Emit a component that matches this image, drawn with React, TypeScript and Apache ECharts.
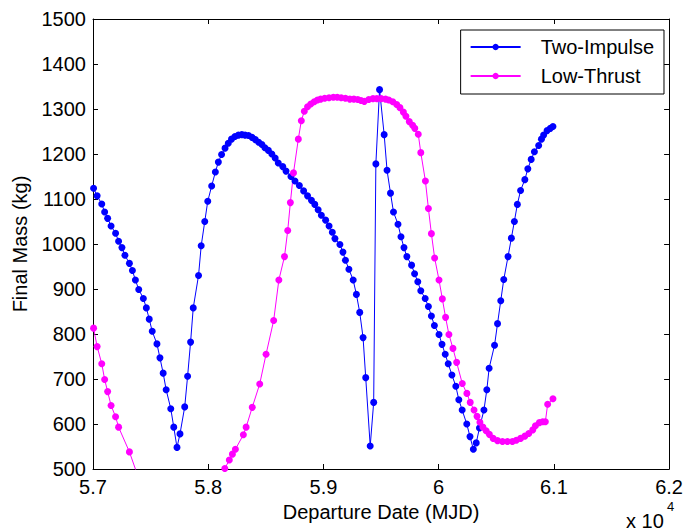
import React, { useEffect, useRef } from 'react';
import * as echarts from 'echarts';

const xTickValues = [57000, 58000, 59000, 60000, 61000, 62000];
const yTickValues = [500, 600, 700, 800, 900, 1000, 1100, 1200, 1300, 1400, 1500];

const twoImpulseDate = [
  57005, 57036, 57076, 57101, 57127, 57157, 57196, 57222, 57251, 57277,
  57316, 57342, 57368, 57397, 57437, 57463, 57488, 57514, 57555, 57581,
  57609, 57635, 57675, 57701, 57729, 57755, 57796, 57821, 57847, 57870,
  57916, 57939, 57970, 57996, 58030, 58062, 58088, 58116, 58146, 58174,
  58202, 58232, 58262, 58292, 58320, 58350, 58380, 58409, 58438, 58466,
  58492, 58522, 58552, 58581, 58608, 58647, 58675, 58718, 58753, 58791,
  58828, 58862, 58896, 58925, 58954, 58982, 59019, 59049, 59077, 59100,
  59143, 59169, 59191, 59221, 59258, 59286, 59315, 59344, 59367, 59406,
  59436, 59455, 59487, 59527, 59552, 59582, 59608, 59647, 59673, 59699,
  59724, 59765, 59791, 59819, 59845, 59883, 59911, 59937, 59963, 60003,
  60029, 60057, 60083, 60115, 60149, 60175, 60204, 60244, 60272, 60301,
  60326, 60354, 60393, 60418, 60438, 60485, 60511, 60539, 60565, 60602,
  60631, 60657, 60683, 60711, 60748, 60774, 60803, 60831, 60868, 60892,
  60911, 60941, 60969, 60992,
];
const twoImpulseMass = [
  1124, 1107, 1089, 1071, 1057, 1040, 1024, 1006, 992, 975,
  957, 941, 920, 899, 879, 858, 833, 806, 778, 747,
  713, 676, 634, 593, 548, 578, 638, 706, 782, 858,
  930, 996, 1050, 1095, 1129, 1160, 1182, 1199, 1213, 1224,
  1233, 1239, 1242, 1243, 1242, 1241, 1237, 1232, 1226, 1221,
  1214, 1208, 1200, 1191, 1180, 1172, 1162, 1150, 1140, 1130,
  1118, 1107, 1097, 1088, 1076, 1064, 1053, 1040, 1026, 1012,
  999, 982, 964, 944, 920, 888, 848, 792, 703, 551,
  648, 1178, 1343, 1243, 1164, 1113, 1071, 1044, 1016, 992,
  972, 953, 934, 916, 896, 879, 861, 840, 819, 799,
  777, 755, 734, 709, 684, 654, 631, 600, 572, 544,
  558, 591, 631, 676, 724, 775, 823, 874, 921, 972,
  1013, 1050, 1088, 1119, 1143, 1167, 1188, 1205, 1219, 1233,
  1242, 1252, 1257, 1261,
];

const lowThrustDate = [
  57005, 57036, 57076, 57101, 57127, 57157, 57196, 57222, 57316, 57409,
  58110, 58144, 58183, 58210, 58236, 58305, 58329, 58382, 58447, 58502,
  58568, 58613, 58662, 58690, 58713, 58740, 58782, 58808, 58834, 58862,
  58890, 58920, 58948, 58976, 59011, 59049, 59086, 59120, 59154, 59191,
  59229, 59264, 59298, 59326, 59355, 59393, 59430, 59464, 59501, 59539,
  59567, 59602, 59636, 59664, 59694, 59716, 59745, 59774, 59793, 59823,
  59845, 59885, 59911, 59937, 59965, 60003, 60032, 60060, 60089, 60124,
  60156, 60205, 60245, 60274, 60307, 60333, 60358, 60384, 60412, 60440,
  60473, 60511, 60554, 60597, 60640, 60674, 60711, 60748, 60782, 60817,
  60840, 60874, 60903, 60926, 60946, 60992,
];
const lowThrustMass = [
  813, 772, 734, 699, 672, 641, 616, 593, 538, 470,
  470, 501, 520, 533, 544, 576, 593, 637, 689, 755,
  830, 920, 972, 1030, 1092, 1158, 1233, 1274, 1295, 1305,
  1311, 1316, 1320, 1322, 1324, 1325, 1326, 1326, 1325, 1324,
  1322, 1322, 1321, 1319, 1317, 1321, 1323, 1323, 1323, 1322,
  1320, 1316, 1310, 1303, 1293, 1284, 1272, 1264, 1257, 1244,
  1203, 1140, 1079, 1023, 969, 920, 878, 837, 799, 768,
  737, 690, 668, 648, 631, 617, 604, 593, 585, 577,
  568, 563, 561, 561, 561, 564, 568, 573, 579, 587,
  596, 603, 605, 605, 644, 656,
];

const FONT = "'Liberation Sans', Arial, Helvetica, sans-serif";
const FS = 20;

function App() {
  const ref = useRef<HTMLDivElement>(null);
  useEffect(() => {
    if (!ref.current) return;
    const chart = echarts.init(ref.current, undefined, { renderer: 'svg' });
    const fmtX = (v: number) => String(parseFloat((v / 10000).toFixed(1)));
    const xMin = xTickValues[0];
    const xMax = xTickValues[xTickValues.length - 1];
    const yMin = yTickValues[0];
    const yMax = yTickValues[yTickValues.length - 1];
    const baseAxis = {
      axisLine: { show: true, onZero: false, lineStyle: { color: '#000', width: 1 } },
      axisTick: { show: true, inside: true, length: 5, lineStyle: { color: '#000' } },
      splitLine: { show: false },
    };
    chart.setOption({
      animation: false,
      backgroundColor: '#fff',
      textStyle: { fontFamily: FONT },
      grid: { left: 93, top: 19, width: 582, height: 450, containLabel: false },
      legend: {
        orient: 'vertical',
        right: 22,
        top: 30,
        itemWidth: 50,
        itemHeight: 8,
        itemGap: 9,
        padding: [7, 10, 8, 9],
        borderColor: '#000',
        borderWidth: 1,
        backgroundColor: '#fff',
        textStyle: { fontSize: FS, color: '#000', fontFamily: FONT, padding: [0, 0, 0, 15] },
        data: ['Two-Impulse', 'Low-Thrust'],
      },
      xAxis: [
        {
          ...baseAxis,
          type: 'value',
          min: xMin,
          max: xMax,
          interval: 1000,
          position: 'bottom',
          axisLabel: { formatter: fmtX, color: '#000', fontSize: FS, fontFamily: FONT, margin: 8 },
          name: 'Departure Date (MJD)',
          nameLocation: 'middle',
          nameGap: 33,
          nameTextStyle: { color: '#000', fontSize: FS, fontFamily: FONT, verticalAlign: 'top' },
        },
        {
          ...baseAxis,
          type: 'value',
          min: xMin,
          max: xMax,
          interval: 1000,
          position: 'top',
          axisLabel: { show: false },
        },
      ],
      yAxis: [
        {
          ...baseAxis,
          type: 'value',
          min: yMin,
          max: yMax,
          interval: 100,
          position: 'left',
          axisLabel: { formatter: (v: number) => String(v), color: '#000', fontSize: FS, fontFamily: FONT, margin: 7 },
          name: 'Final Mass (kg)',
          nameLocation: 'middle',
          nameGap: 63,
          nameTextStyle: { color: '#000', fontSize: FS, fontFamily: FONT },
        },
        {
          ...baseAxis,
          type: 'value',
          min: yMin,
          max: yMax,
          interval: 100,
          position: 'right',
          axisLabel: { show: false },
        },
      ],
      graphic: [
        { type: 'text', left: 626, top: 511, style: { text: 'x 10', font: `${FS}px ${FONT}`, fill: '#000' } },
        { type: 'text', left: 667, top: 500, style: { text: '4', font: `13px ${FONT}`, fill: '#000' } },
      ],
      series: [
        {
          name: 'Two-Impulse',
          type: 'line',
          data: twoImpulseDate.map((d, i) => [d, twoImpulseMass[i]]),
          symbol: 'circle',
          symbolSize: 7,
          showAllSymbol: true,
          clip: true,
          lineStyle: { color: '#0000ff', width: 1 },
          itemStyle: { color: '#0000ff' },
        },
        {
          name: 'Low-Thrust',
          type: 'line',
          data: lowThrustDate.map((d, i) => [d, lowThrustMass[i]]),
          symbol: 'circle',
          symbolSize: 7,
          showAllSymbol: true,
          clip: true,
          lineStyle: { color: '#ff00ff', width: 1 },
          itemStyle: { color: '#ff00ff' },
        },
      ],
    });
    return () => chart.dispose();
  }, []);
  return (
    <div
      ref={ref}
      style={{ position: 'fixed', left: 0, top: 0, width: 686, height: 531, background: '#fff' }}
    />
  );
}

export default App;
